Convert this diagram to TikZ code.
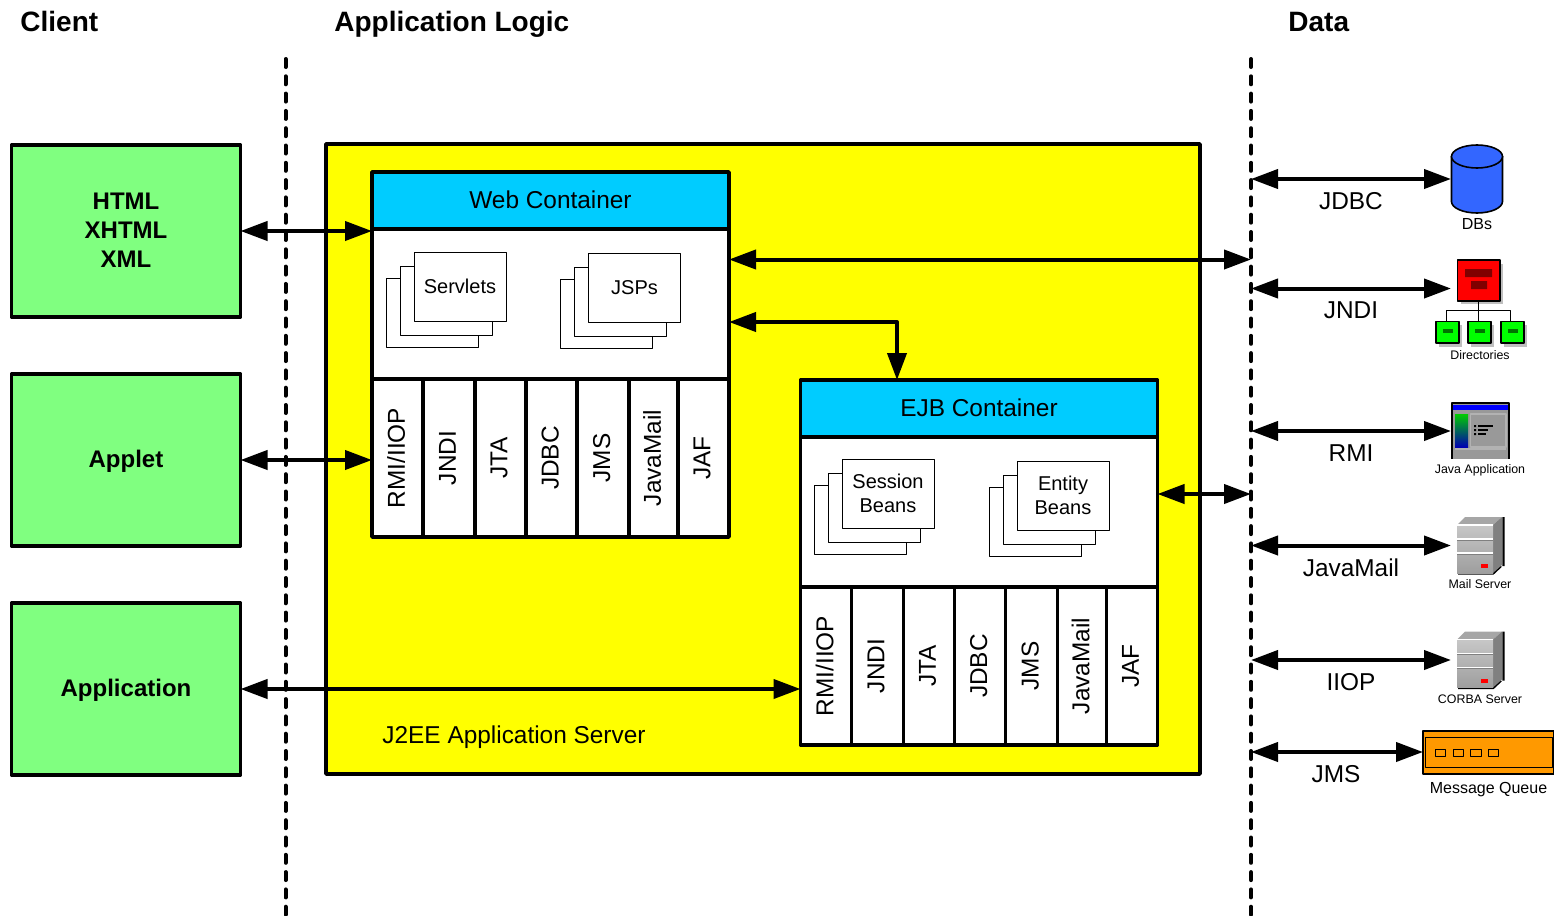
\documentclass[tikz,border=0pt]{standalone}
\usepackage{fontspec}
\setmainfont{Liberation Sans}
\usetikzlibrary{arrows.meta}
\definecolor{cgreen}{HTML}{80FF80}
\definecolor{chead}{HTML}{00CCFF}
\definecolor{cyel}{HTML}{FFFF00}
\definecolor{cdb}{HTML}{3366FF}
\definecolor{cq}{HTML}{FF9900}
\definecolor{cg}{HTML}{999999}
\begin{document}
\begin{tikzpicture}[x=0.5pt,y=-0.5pt,line join=round,
    cb/.style={draw,line width=1.8pt,fill=cgreen,minimum width=114.5pt,minimum height=86pt,inner sep=0pt,outer sep=0pt,align=center,font=\fontsize{12}{14.5}\selectfont\bfseries},
    hd/.style={draw,line width=1.8pt,fill=chead,minimum width=178.5pt,minimum height=28.5pt,inner sep=0pt,outer sep=0pt,text depth=1pt,font=\fontsize{12.2}{14}\selectfont},
    bd/.style={draw,line width=1.8pt,fill=white,minimum width=178.5pt,minimum height=75pt,inner sep=0pt,outer sep=0pt},
    col/.style={draw,line width=1.8pt,fill=white,rotate=90,minimum width=79pt,inner sep=0pt,outer sep=0pt,text depth=1.5pt,font=\fontsize{12.2}{14}\selectfont},
    pg/.style={draw,line width=0.45pt,fill=white,minimum width=46pt,minimum height=34.5pt,inner sep=0pt,outer sep=0pt,align=center,font=\fontsize{10}{12}\selectfont},
    lnk/.style={line width=2pt,{Triangle[length=13.5pt,width=9.5pt]}-{Triangle[length=13.5pt,width=9.5pt]}},
    dsh/.style={line width=2pt,line cap=round,dash pattern=on 4pt off 4.65pt},
    lc/.style={font=\fontsize{12.2}{14}\selectfont}]
    \useasboundingbox (0,0) rectangle (1554,916);
    \foreach \n/\x/\t in {client/20/Client,logic/334/Application Logic,data/1288/Data}
        \node[anchor=base west,inner sep=0pt,font=\fontsize{14}{16}\selectfont\bfseries] (\n) at(\x,31) {\t};
    \node[draw,line width=1.8pt,fill=cyel,minimum width=437pt,minimum height=315pt,inner sep=0pt,outer sep=0pt] (server) at(763,459) {};
    \node[lc] (j2ee) at(514,737) {J2EE Application Server};
    \node[cb,text depth=1pt] (html) at(126,231) {HTML\\XHTML\\XML};
    \node[cb,text depth=1pt] (applet) at(126,460) {Applet};
    \node[cb,text depth=1pt] (appl) at(126,689) {Application};
    \foreach \c/\hy/\by/\dx/\dy/\t in {web/200.5/304/0/0/Web Container,ejb/408.5/512.5/428.5/208/EJB Container} {
        \node[hd] (\c head) at(550.5+\dx,\hy) {\t};
        \node[bd] (\c body) at(550.5+\dx,\by) {};
        \foreach[count=\i] \a/\b/\t in {372/423/{RMI/IIOP},423/475/JNDI,475/526/JTA,526/577/JDBC,577/629/JMS,629/678/JavaMail,678/729/JAF}
            \node[col,minimum height={(\b-\a)*0.5pt}] (\c col\i) at({(\a+\b)/2+\dx},458+\dy) {\t};
    }
    \foreach \n/\x/\y/\t in {servlets/460/286.5/Servlets,jsps/634.5/288/JSPs,session/888/493.5/{Session\\Beans},entity/1063/495.5/{Entity\\Beans}} {
        \node[pg] (\n c) at(\x-28,\y+26) {};
        \node[pg] (\n b) at(\x-14,\y+14) {};
        \node[pg] (\n) at(\x,\y) {\t};
    }
    \coordinate (toejb) at(897,322);
    \coordinate (webdata) at(1251,259.5);
    \coordinate (ejbdata) at(1251,494);
    \draw[lnk] (html.east) -- (html.east -| webbody.west);
    \draw[lnk] (applet.east) -- (applet.east -| webcol1.north);
    \draw[lnk] (appl.east) -- (appl.east -| ejbcol1.north);
    \draw[lnk] (webdata -| webbody.east) -- (webdata);
    \draw[lnk] (ejbdata -| ejbbody.east) -- (ejbdata);
    \draw[lnk] (toejb -| webbody.east) -- (toejb) -- (toejb |- ejbhead.north);
    \foreach \n/\y/\x/\lx/\t in {jdbc/179/1451/1351/JDBC,jndi/288.5/1451/1351/JNDI,rmi/431/1451/1351/RMI,mail/545.5/1451/1351/JavaMail,iiop/660/1451/1351/IIOP,jms/752/1423/1336/JMS} {
        \coordinate (\n l) at(1251,\y);
        \coordinate (\n r) at(\x,\y);
        \draw[lnk] (\n l) -- (\n r);
        \node[lc] (\n t) at(\lx,\y+22) {\t};
    }
    \coordinate (lt) at(285.5,59);
    \coordinate (lb) at(285.5,916);
    \coordinate (rt) at(1251,59);
    \coordinate (rb) at(1251,916);
    \draw[dsh] (lt) -- (lb);
    \draw[dsh] (rt) -- (rb);
    \draw[line width=0.8pt,fill=cdb] (1451.5,156.5) -- (1451.5,201.5) arc[start angle=180,end angle=360,x radius=12.75pt,y radius=5.75pt] -- (1502.5,156.5) -- cycle;
    \draw[line width=0.8pt,fill=cdb] (1477,156.5) ellipse [x radius=12.75pt,y radius=5.75pt];
    \fill[gray!50] (1461,264) rectangle (1503,304);
    \draw[line width=0.9pt,fill=red] (1457.5,260) rectangle (1500,301);
    \fill[red!50!black] (1465,269) rectangle (1492,277) (1471,281) rectangle (1487,289);
    \draw[line width=0.5pt] (1478.5,301) -- (1478.5,321) (1446,321) -- (1446,310) -- (1510,310) -- (1510,321);
    \foreach \x in {1436,1468,1501} {
        \fill[gray!50] (\x+3,325) rectangle (\x+26,347);
        \draw[line width=0.9pt,fill=green] (\x,321.5) rectangle (\x+23,343);
        \fill[green!45!black] (\x+7,329) rectangle (\x+17,333);
    }
    \fill[cg] (1452,403) rectangle (1509,459);
    \draw[line width=1.1pt] (1452,459) -- (1452,403) -- (1509,403) -- (1509,459);
    \fill[blue] (1453,404.5) rectangle (1508,410);
    \shade[top color=green!80!black,bottom color=blue!70!black] (1455,414) rectangle (1468,447);
    \draw[line width=0.7pt,draw=gray!60] (1470.5,414) rectangle (1506,447);
    \fill[gray!60] (1455,448) rectangle (1506,450);
    \draw[line width=0.6pt] (1478,426) -- (1493,426) (1478,430) -- (1488,430) (1478,434) -- (1486,434);
    \fill (1474,425) rectangle (1476,427) (1474,429) rectangle (1476,431) (1474,433) rectangle (1476,435);
    \foreach \s in {0,114.5} {
        \draw[line width=1.2pt] (1503.5,517+\s) -- (1503.5,566+\s) (1458,573.5+\s) -- (1493,573.5+\s) -- (1501,566+\s);
        \fill[black!35] (1457,525+\s) -- (1465,517+\s) -- (1502,517+\s) -- (1493,525+\s) -- cycle;
        \fill[black!50] (1493,525+\s) -- (1502,517+\s) -- (1502,565+\s) -- (1493,573+\s) -- cycle;
        \shade[top color=black!22,bottom color=black!38] (1457,525+\s) rectangle (1493,573+\s);
        \draw[line width=0.7pt,draw=white] (1457,525+\s) -- (1493,525+\s) (1457,539+\s) -- (1493,539+\s) (1457,553+\s) -- (1493,553+\s);
        \draw[line width=0.4pt,draw=gray] (1457,540+\s) -- (1493,540+\s) (1457,554+\s) -- (1493,554+\s);
        \fill[red] (1481,564+\s) rectangle (1488,568+\s);
    }
    \draw[line width=0.6pt,fill=cq] (1423,731) rectangle (1554,774);
    \draw[line width=0.5pt] (1425.5,737) rectangle (1552.5,767);
    \foreach \x in {1435,1453,1470.5,1488}
        \draw[line width=0.5pt] (\x,749) rectangle (\x+10.5,756);
    \foreach \n/\x/\y/\s/\t in {dbs/1477/224.5/8/DBs,dirs/1480/355/6.2/Directories,japp/1480/470.5/6.2/Java Application,mails/1480/584/6.2/Mail Server,corba/1480/699/6.2/CORBA Server,queue/1488.5/789.5/8/Message Queue}
        \node[inner sep=0pt,font=\fontsize{\s}{\s}\selectfont] (\n) at(\x,\y) {\t};
\end{tikzpicture}
\end{document}
